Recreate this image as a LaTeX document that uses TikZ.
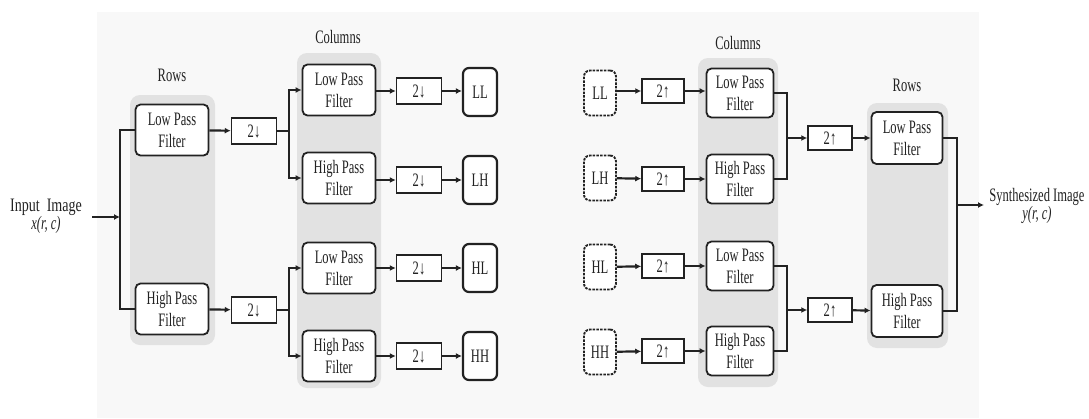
\documentclass[tikz,border=0pt]{standalone}
\usepackage{fontspec}
\setmainfont{Liberation Serif}[FakeStretch=0.66]
\usetikzlibrary{arrows.meta}
\definecolor{panelgray}{HTML}{E2E2E2}
\definecolor{bggray}{HTML}{F8F8F8}
\definecolor{ink}{HTML}{222222}
\newcommand{\dn}{2\textbf{↓}}
\newcommand{\upa}{2\textbf{↑}}
\tikzset{
  panel/.style={fill=panelgray, rounded corners=10pt, draw=none},
  filt/.style={draw=ink, fill=white, rounded corners=5pt, line width=1.8pt, align=center,
    minimum width=73pt, minimum height=51pt, inner sep=1pt, font=\fontsize{19}{22}\selectfont, text=ink},
  samp/.style={draw=ink, fill=white, line width=1.5pt, minimum width=45pt, minimum height=26pt,
    inner sep=1pt, font=\fontsize{19}{22}\selectfont, text=ink},
  outb/.style={draw=ink, fill=white, rounded corners=6pt, line width=2.2pt, minimum width=34pt,
    minimum height=48pt, inner sep=1pt, font=\fontsize{19}{22}\selectfont, text=ink},
  inb/.style={outb, dashed, dash pattern=on 2.5pt off 1.2pt, line width=1.9pt, minimum width=32pt, minimum height=45pt},
  lbl/.style={font=\fontsize{19}{22}\selectfont, text=ink},
  wire/.style={draw=ink, line width=2.2pt},
  conn/.style={wire, -{Latex[length=6pt,width=6pt]}},
}
\begin{document}
\begin{tikzpicture}[x=1pt,y=-1pt]
\useasboundingbox (0,0) rectangle (1089,418);
\fill[bggray] (97,12) rectangle (979,418);
% panels
\fill[panel] (130,95) rectangle (215,345);
\fill[panel] (297,53) rectangle (381,388);
\fill[panel] (698,58) rectangle (778,387);
\fill[panel] (867,103) rectangle (948,348);
% labels
\node[lbl] (rowsL) at (172,75) {Rows};
\node[lbl] (colsL) at (338,37) {Columns};
\node[lbl] (colsR) at (738,43) {Columns};
\node[lbl] (rowsR) at (907,85) {Rows};
\node[lbl, align=center] (inp) at (46,216) {\addfontfeature{FakeStretch=0.74}Input\ \ Image\\[-4pt] \itshape x(r, c)};
\node[lbl, align=center] (syn) at (1037,206) {Synthesized Image\\[-4pt] \itshape y(r, c)};
% analysis side
\node[filt] (rLP) at (172,130) {Low Pass\\Filter};
\node[filt] (rHP) at (172,309) {High Pass\\Filter};
\node[samp] (d1) at (254,131) {\dn};
\node[samp] (d2) at (254,310) {\dn};
\node[filt] (cLP1) at (339,90) {Low Pass\\Filter};
\node[filt] (cHP1) at (339,178) {High Pass\\Filter};
\node[filt] (cLP2) at (339,268) {Low Pass\\Filter};
\node[filt] (cHP2) at (339,356) {High Pass\\Filter};
\node[samp] (dd1) at (419,91) {\dn};
\node[samp] (dd2) at (419,180) {\dn};
\node[samp] (dd3) at (419,268) {\dn};
\node[samp] (dd4) at (419,356) {\dn};
\node[outb] (oLL) at (480,92) {LL};
\node[outb] (oLH) at (480,180) {LH};
\node[outb] (oHL) at (480,268) {HL};
\node[outb] (oHH) at (480,356) {HH};
% synthesis side
\node[inb] (iLL) at (600,93) {LL};
\node[inb] (iLH) at (600,178) {LH};
\node[inb] (iHL) at (600,267) {HL};
\node[inb] (iHH) at (600,352) {HH};
\node[samp, minimum width=42pt, minimum height=24pt] (u1) at (663,91) {\upa};
\node[samp, minimum width=42pt, minimum height=24pt] (u2) at (663,179) {\upa};
\node[samp, minimum width=42pt, minimum height=24pt] (u3) at (663,266) {\upa};
\node[samp, minimum width=42pt, minimum height=24pt] (u4) at (663,351) {\upa};
\node[filt, minimum width=67pt, minimum height=49pt] (sLP1) at (740,93) {Low Pass\\Filter};
\node[filt, minimum width=67pt, minimum height=49pt] (sHP1) at (740,179) {High Pass\\Filter};
\node[filt, minimum width=67pt, minimum height=49pt] (sLP2) at (740,266) {Low Pass\\Filter};
\node[filt, minimum width=67pt, minimum height=49pt] (sHP2) at (740,351) {High Pass\\Filter};
\node[samp, minimum width=44pt, minimum height=24pt] (U1) at (830,138) {\upa};
\node[samp, minimum width=44pt, minimum height=24pt] (U2) at (830,310) {\upa};
\node[filt, minimum width=71pt, minimum height=52pt] (oLP) at (907,138) {Low Pass\\Filter};
\node[filt, minimum width=71pt, minimum height=52pt] (oHP) at (907,311) {High Pass\\Filter};
% coordinates
\coordinate (inS) at (92,217);
\coordinate (sp) at (120,217);
\coordinate (b1) at (289,131);
\coordinate (b2) at (289,310);
\coordinate (m1) at (787,138);
\coordinate (m2) at (787,310);
\coordinate (m3) at (957,205);
\coordinate (outE) at (984,205);
% analysis connectors
\draw[conn] (inS) -- (sp);
\draw[wire] (rLP.west) -| (sp) |- (rHP.west);
\draw[conn] (rLP) -- (d1);
\draw[conn] (rHP) -- (d2);
\draw[wire] (d1.east) -- (b1);
\draw[wire] (d2.east) -- (b2);
\draw[conn] (b1) |- (cLP1.west);
\draw[conn] (b1) |- (cHP1.west);
\draw[conn] (b2) |- (cLP2.west);
\draw[conn] (b2) |- (cHP2.west);
\draw[conn] (cLP1.east |- dd1) -- (dd1);
\draw[conn] (cHP1.east |- dd2) -- (dd2);
\draw[conn] (cLP2) -- (dd3);
\draw[conn] (cHP2) -- (dd4);
\draw[conn] (dd1) -- (oLL.west |- dd1);
\draw[conn] (dd2) -- (oLH);
\draw[conn] (dd3) -- (oHL);
\draw[conn] (dd4) -- (oHH);
% synthesis connectors
\draw[conn] (iLL.east |- u1) -- (u1);
\draw[conn] (iLH) -- (u2);
\draw[conn] (iHL) -- (u3);
\draw[conn] (iHH) -- (u4);
\draw[conn] (u1) -- (sLP1.west |- u1);
\draw[conn] (u2) -- (sHP1.west |- u2);
\draw[conn] (u3) -- (sLP2.west |- u3);
\draw[conn] (u4) -- (sHP2.west |- u4);
\draw[wire] (sLP1.east) -| (m1) |- (sHP1.east);
\draw[wire] (sLP2.east) -| (m2) |- (sHP2.east);
\draw[conn] (m1) -- (U1);
\draw[conn] (m2) -- (U2);
\draw[conn] (U1) -- (oLP);
\draw[conn] (U2) -- (oHP);
\draw[wire] (oLP.east) -| (m3) |- (oHP.east);
\draw[conn] (m3) -- (outE);
\end{tikzpicture}
\end{document}
